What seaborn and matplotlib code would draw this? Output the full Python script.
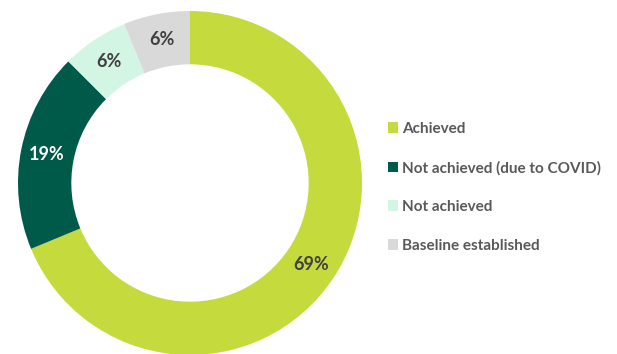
import matplotlib
matplotlib.use("Agg")
import matplotlib.pyplot as plt
import seaborn as sns

categories = ["Achieved", "Not achieved (due to COVID)", "Not achieved", "Baseline established"]
# number of targets in each status (16 in total)
target_counts = [11, 3, 1, 1]
colors = ["#C5DA3C", "#005A4A", "#D3F5E4", "#D9D9D9"]
label_colors = ["#404040", "#FFFFFF", "#404040", "#404040"]

sns.set_theme(style="white")
plt.rcParams["font.family"] = ["Lato", "DejaVu Sans"]

W, H = 617, 354
fig = plt.figure(figsize=(W / 100, H / 100), dpi=100)
R = 172
cx, cy = 190, 183
ax = fig.add_axes([(cx - R) / W, (H - cy - R) / H, 2 * R / W, 2 * R / H])

wedges, texts, autotexts = ax.pie(
    target_counts,
    colors=colors,
    startangle=90,
    counterclock=False,
    radius=1,
    wedgeprops=dict(width=0.31, linewidth=0),
    autopct=lambda p: f"{p:.0f}%",
    pctdistance=0.85,
)
for t, c in zip(autotexts, label_colors):
    t.set_color(c)
    t.set_fontsize(13)
    t.set_fontweight("bold")
ax.set_xlim(-1, 1)
ax.set_ylim(-1, 1)
ax.set_aspect("equal")
ax.axis("off")

leg = fig.legend(
    wedges,
    categories,
    loc="center left",
    bbox_to_anchor=(374 / W, 1 - 187.5 / H),
    frameon=False,
    handlelength=0.7,
    handleheight=0.7,
    handletextpad=0.25,
    labelspacing=1.62,
    prop=dict(family=["Lato", "DejaVu Sans"], weight="bold", size=11),
)
for t in leg.get_texts():
    t.set_color("#595959")

fig.savefig("out.png", dpi=100)
